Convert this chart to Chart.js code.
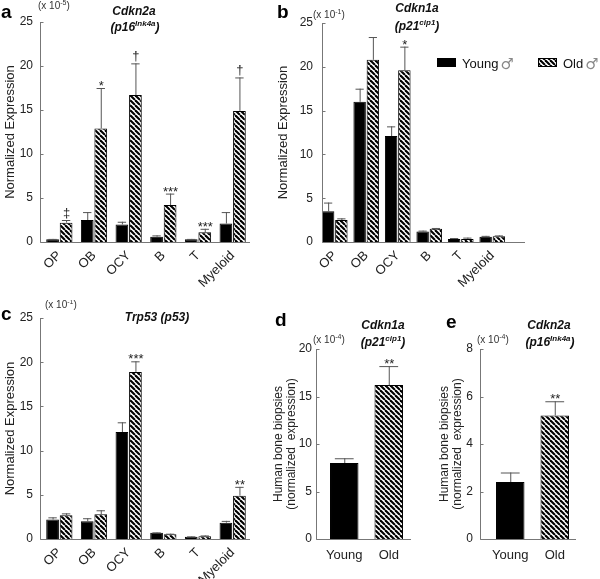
<!DOCTYPE html>
<html>
<head>
<meta charset="utf-8">
<script src="https://cdn.jsdelivr.net/npm/chart.js@4"></script>
<style>
  body { margin: 0; background: #fff; }
  #fig { position: relative; width: 600px; height: 579px; overflow: hidden; }
  #fig canvas { position: absolute; }
</style>
</head>
<body>
<div id="fig">
  <canvas id="chartA"></canvas>
  <canvas id="chartB"></canvas>
  <canvas id="chartC"></canvas>
  <canvas id="chartD"></canvas>
  <canvas id="chartE"></canvas>
</div>
<script>
// ---- data (errors are the upper SEM) ----
const cellTypes = ['OP', 'OB', 'OCY', 'B', 'T', 'Myeloid'];
const humanGroups = ['Young', 'Old'];
const legendSex = '\u2642';

// a: Cdkn2a (p16Ink4a), x 10^-5
const p16Young = [0.3, 2.5, 2.0, 0.6, 0.3, 2.1];
const p16YoungErr = [0.05, 0.9, 0.3, 0.15, 0.05, 1.3];
const p16Old = [2.2, 12.9, 16.7, 4.2, 1.1, 14.9];
const p16OldErr = [0.3, 4.6, 3.6, 1.3, 0.4, 3.8];
const p16Marks = ['\u2021', '*', '\u2020', '***', '***', '\u2020'];

// b: Cdkn1a (p21cip1), x 10^-1
const p21Young = [3.5, 16.0, 12.1, 1.2, 0.35, 0.6];
const p21YoungErr = [1.0, 1.5, 1.1, 0.1, 0.1, 0.1];
const p21Old = [2.5, 20.8, 19.6, 1.5, 0.35, 0.65];
const p21OldErr = [0.2, 2.6, 2.7, 0.1, 0.15, 0.1];
const p21Marks = ['', '', '*', '', '', ''];

// c: Trp53 (p53), x 10^-1
const p53Young = [2.2, 2.0, 12.1, 0.7, 0.25, 1.85];
const p53YoungErr = [0.25, 0.35, 1.1, 0.05, 0.05, 0.2];
const p53Old = [2.7, 2.8, 18.9, 0.55, 0.3, 4.9];
const p53OldErr = [0.2, 0.45, 1.2, 0.05, 0.1, 1.0];
const p53Marks = ['', '', '***', '', '', '**'];

// d: human Cdkn1a, x 10^-4
const humanP21 = [8.0, 16.2];
const humanP21Err = [0.5, 2.0];
const humanP21Marks = ['', '**'];

// e: human Cdkn2a, x 10^-4
const humanP16 = [2.4, 5.2];
const humanP16Err = [0.4, 0.6];
const humanP16Marks = ['', '**'];

// ---- helpers ----
const FONT = '"Liberation Sans", Arial, sans-serif';
const AXIS = '#777';

function hatchFor(canvas) {
  const s = 5;
  const c = document.createElement('canvas');
  c.width = s; c.height = s;
  const g = c.getContext('2d');
  g.fillStyle = '#fff';
  g.fillRect(0, 0, s, s);
  g.strokeStyle = '#000';
  g.lineWidth = 2.1;
  [-s, 0, s].forEach(o => {
    g.beginPath(); g.moveTo(o, 0); g.lineTo(o + s, s); g.stroke();
  });
  return canvas.getContext('2d').createPattern(c, 'repeat');
}

const bi = (t) => ({ text: t, font: 'italic bold 12px ' + FONT });
const biSup = (t) => ({ text: t, font: 'italic bold 8px ' + FONT, dy: -5 });
const mult = (exp) => [
  { text: '(x 10', font: '10px ' + FONT },
  { text: exp, font: '7px ' + FONT, dy: -4 },
  { text: ')', font: '10px ' + FONT }
];

function drawRich(ctx, parts, x, y, align) {
  let w = 0;
  parts.forEach(p => { ctx.font = p.font; w += ctx.measureText(p.text).width; });
  let cx = align === 'center' ? x - w / 2 : x;
  ctx.textAlign = 'left';
  ctx.textBaseline = 'alphabetic';
  parts.forEach(p => {
    ctx.font = p.font;
    ctx.fillText(p.text, cx, y + (p.dy || 0));
    cx += ctx.measureText(p.text).width;
  });
}

const errorBars = {
  id: 'errorBars',
  afterDatasetsDraw(chart) {
    const ctx = chart.ctx;
    const yScale = chart.scales.y;
    ctx.save();
    chart.data.datasets.forEach((ds, i) => {
      chart.getDatasetMeta(i).data.forEach((bar, j) => {
        const top = yScale.getPixelForValue(ds.data[j] + ds.errors[j]);
        const half = bar.width * 0.33;
        ctx.strokeStyle = '#555';
        ctx.lineWidth = 1;
        ctx.beginPath();
        ctx.moveTo(bar.x + 0.5, bar.y);
        ctx.lineTo(bar.x + 0.5, top);
        ctx.moveTo(bar.x - half, top + 0.5);
        ctx.lineTo(bar.x + half, top + 0.5);
        ctx.stroke();
        const m = (ds.marks || [])[j];
        if (m) {
          ctx.fillStyle = '#222';
          ctx.font = '13px ' + FONT;
          ctx.textAlign = 'center';
          ctx.textBaseline = 'alphabetic';
          ctx.fillText(m, bar.x + 0.5, m.includes('*') ? top + 2 : top - 3);
        }
      });
    });
    ctx.restore();
  }
};

const decor = {
  id: 'decor',
  afterDraw(chart, args, o) {
    const ctx = chart.ctx;
    const area = chart.chartArea;
    const yScale = chart.scales.y;
    const ax = Math.round(area.left + o.shift) + 0.5;
    const by = Math.round(area.bottom) + 0.5;
    ctx.save();
    // axes
    ctx.strokeStyle = AXIS;
    ctx.lineWidth = 1;
    ctx.beginPath();
    ctx.moveTo(ax, yScale.getPixelForValue(yScale.max));
    ctx.lineTo(ax, by);
    ctx.lineTo(area.right + o.extend, by);
    yScale.ticks.forEach(t => {
      const py = Math.round(yScale.getPixelForValue(t.value)) + 0.5;
      ctx.moveTo(ax, py);
      ctx.lineTo(ax + 3, py);
    });
    ctx.stroke();
    // panel letter
    ctx.fillStyle = '#000';
    ctx.font = 'bold 19px ' + FONT;
    ctx.textAlign = 'left';
    ctx.textBaseline = 'alphabetic';
    ctx.fillText(o.letter[0], o.letter[1], o.letter[2]);
    // titles and multiplier
    ctx.fillStyle = '#111';
    o.titles.forEach(t => drawRich(ctx, t.parts, t.x, t.y, 'center'));
    ctx.fillStyle = '#333';
    drawRich(ctx, o.mult.parts, o.mult.x, o.mult.y, 'left');
    // y title
    ctx.fillStyle = '#222';
    ctx.font = o.yTitleFont + 'px ' + FONT;
    ctx.textAlign = 'center';
    ctx.textBaseline = 'middle';
    const cy = (area.top + area.bottom) / 2;
    o.yTitle.forEach((line, k) => {
      ctx.save();
      ctx.translate(o.yTitleX + k * 13, cy);
      ctx.rotate(-Math.PI / 2);
      ctx.fillText(line, 0, 0);
      ctx.restore();
    });
    // legend
    if (o.legend) {
      o.legend.forEach((lg, i) => {
        const ds = chart.data.datasets[i];
        ctx.fillStyle = ds.backgroundColor;
        ctx.fillRect(lg.x, lg.y, 19, 9);
        ctx.strokeStyle = '#000';
        ctx.strokeRect(lg.x + 0.5, lg.y + 0.5, 18, 8);
        ctx.font = '13px ' + FONT;
        ctx.textAlign = 'left';
        ctx.textBaseline = 'alphabetic';
        ctx.fillStyle = '#111';
        ctx.fillText(ds.label, lg.x + 25, lg.y + 10);
        const w = ctx.measureText(ds.label).width + 2;
        ctx.fillStyle = '#888';
        ctx.font = '15px "DejaVu Sans", ' + FONT;
        ctx.fillText(legendSex, lg.x + 25 + w, lg.y + 11);
      });
    }
    ctx.restore();
  }
};

function makePanel(id, box, labels, datasets, yOpt, fit, deco) {
  const cv = document.getElementById(id);
  cv.width = box.w; cv.height = box.h;
  cv.style.left = box.left + 'px';
  cv.style.top = box.top + 'px';
  const rotated = fit.rotate;
  return new Chart(cv, {
    type: 'bar',
    data: { labels: labels, datasets: datasets(cv) },
    options: {
      responsive: false,
      animation: false,
      devicePixelRatio: 1,
      layout: { padding: { left: 0, top: fit.top, right: fit.right, bottom: 0 } },
      datasets: { bar: { categoryPercentage: fit.cat, barPercentage: fit.bar, borderWidth: 1, borderColor: '#000' } },
      plugins: { legend: { display: false }, tooltip: { enabled: false }, decor: deco },
      scales: {
        x: {
          offset: true,
          grid: { display: false, drawTicks: false },
          border: { display: false },
          ticks: {
            autoSkip: false,
            minRotation: rotated ? 45 : 0,
            maxRotation: rotated ? 45 : 0,
            padding: fit.xPad,
            color: '#222',
            font: { family: FONT, size: 13 }
          },
          afterFit: s => { s.height = fit.xH; }
        },
        y: {
          min: 0,
          max: yOpt.max,
          grid: { display: false, drawTicks: false },
          border: { display: false },
          ticks: { stepSize: yOpt.step, padding: fit.yPad, color: '#222', font: { family: FONT, size: 12 } },
          afterFit: s => { s.width = fit.yW; }
        }
      }
    },
    plugins: [errorBars, decor]
  });
}

function pairSets(young, youngErr, old, oldErr, marks) {
  return (cv) => [
    { label: 'Young', data: young, errors: youngErr, marks: [], backgroundColor: '#000' },
    { label: 'Old', data: old, errors: oldErr, marks: marks, backgroundColor: hatchFor(cv) }
  ];
}

function singleSet(values, errs, marks) {
  return (cv) => [
    { label: 'Human', data: values, errors: errs, marks: marks, backgroundColor: ['#000', hatchFor(cv)] }
  ];
}

// a
makePanel('chartA', { left: 0, top: 0, w: 270, h: 300 }, cellTypes,
  pairSets(p16Young, p16YoungErr, p16Old, p16OldErr, p16Marks),
  { max: 25, step: 5 },
  { top: 22, right: 20, yW: 42, xH: 58, yPad: 9, xPad: 6, cat: 0.78, bar: 0.94, rotate: true },
  { shift: -2, extend: 0, letter: ['a', 1, 18],
    titles: [{ parts: [bi('Cdkn2a')], x: 134, y: 15 },
             { parts: [bi('(p16'), biSup('Ink4a'), bi(')')], x: 135, y: 31 }],
    mult: { parts: mult('-5'), x: 38, y: 9 },
    yTitle: ['Normalized Expression'], yTitleX: 10, yTitleFont: 13 });

// b
makePanel('chartB', { left: 270, top: 0, w: 330, h: 300 }, cellTypes,
  pairSets(p21Young, p21YoungErr, p21Old, p21OldErr, p21Marks),
  { max: 25, step: 5 },
  { top: 23, right: 92, yW: 49, xH: 58, yPad: 6, xPad: 6, cat: 0.84, bar: 0.94, rotate: true },
  { shift: 3, extend: 17, letter: ['b', 7, 18],
    titles: [{ parts: [bi('Cdkn1a')], x: 147, y: 12 },
             { parts: [bi('(p21'), biSup('cip1'), bi(')')], x: 147, y: 30 }],
    mult: { parts: mult('-1'), x: 43, y: 18 },
    yTitle: ['Normalized Expression'], yTitleX: 13, yTitleFont: 13,
    legend: [{ x: 167, y: 58 }, { x: 268, y: 58 }] });

// c
makePanel('chartC', { left: 0, top: 300, w: 270, h: 279 }, cellTypes,
  pairSets(p53Young, p53YoungErr, p53Old, p53OldErr, p53Marks),
  { max: 25, step: 5 },
  { top: 18, right: 20, yW: 42, xH: 40, yPad: 9, xPad: 6, cat: 0.78, bar: 0.94, rotate: true },
  { shift: -2, extend: 0, letter: ['c', 1, 20],
    titles: [{ parts: [bi('Trp53 (p53)')], x: 157, y: 21 }],
    mult: { parts: mult('-1'), x: 45, y: 8 },
    yTitle: ['Normalized Expression'], yTitleX: 10, yTitleFont: 13 });

// d
makePanel('chartD', { left: 265, top: 300, w: 150, h: 279 }, humanGroups,
  singleSet(humanP21, humanP21Err, humanP21Marks),
  { max: 20, step: 5 },
  { top: 49, right: 4, yW: 57, xH: 40, yPad: 10, xPad: 9, cat: 1, bar: 0.64, rotate: false },
  { shift: -6, extend: 0, letter: ['d', 10, 26],
    titles: [{ parts: [bi('Cdkn1a')], x: 118, y: 29 },
             { parts: [bi('(p21'), biSup('cip1'), bi(')')], x: 118, y: 46 }],
    mult: { parts: mult('-4'), x: 48, y: 43 },
    yTitle: ['Human bone biopsies', '(normalized  expression)'], yTitleX: 14, yTitleFont: 12 });

// e
makePanel('chartE', { left: 415, top: 300, w: 185, h: 279 }, humanGroups,
  singleSet(humanP16, humanP16Err, humanP16Marks),
  { max: 8, step: 2 },
  { top: 49, right: 23, yW: 73, xH: 40, yPad: 15, xPad: 9, cat: 1, bar: 0.64, rotate: false },
  { shift: -8, extend: -1, letter: ['e', 31, 28],
    titles: [{ parts: [bi('Cdkn2a')], x: 134, y: 29 },
             { parts: [bi('(p16'), biSup('Ink4a'), bi(')')], x: 135, y: 46 }],
    mult: { parts: mult('-4'), x: 62, y: 43 },
    yTitle: ['Human bone biopsies', '(normalized  expression)'], yTitleX: 30, yTitleFont: 12 });
</script>
</body>
</html>
